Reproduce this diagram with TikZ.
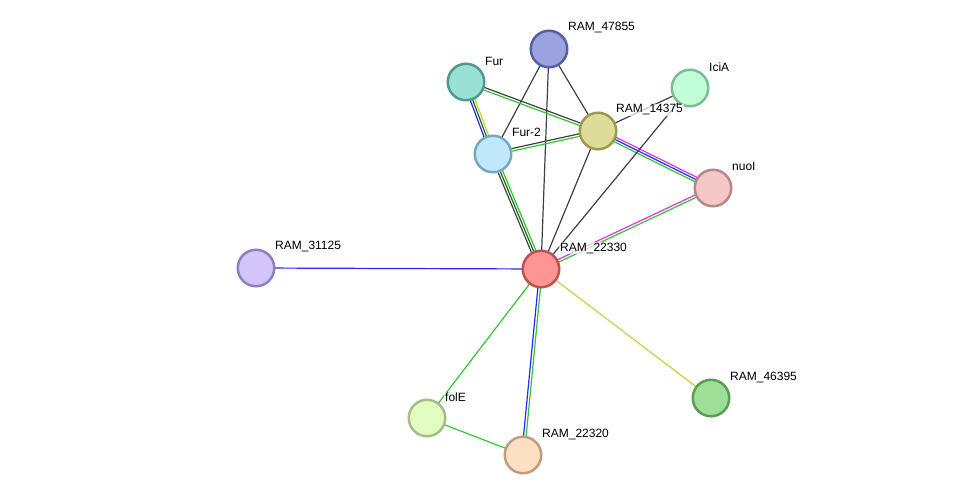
\documentclass[tikz,border=0pt]{standalone}
\usepackage{fontspec}
\setmainfont{Liberation Sans}
\usepackage{xcolor}
\definecolor{egray}{RGB}{64, 64, 64}
\definecolor{egreen}{RGB}{51, 196, 51}
\definecolor{edkgreen}{RGB}{20, 110, 20}
\definecolor{eblue}{RGB}{40, 40, 250}
\definecolor{emagenta}{RGB}{225, 50, 225}
\definecolor{eyellow}{RGB}{198, 210, 60}
\usetikzlibrary{calc, positioning, backgrounds}
\tikzset{
  prot/.style={circle, minimum size=36.5pt, inner sep=0pt, line width=2.5pt},
  lbl/.style={anchor=west, inner sep=1pt, font=\fontsize{12}{14}\selectfont,
    fill=white, fill opacity=0.7, text opacity=1},
  edge/.style={line width=1.2pt}
}
% one strand of a (multi-coloured) link, shifted sideways by #3
\newcommand{\link}[4]{\draw[edge,#4] ($(#1)!#3!90:(#2)$) -- ($(#2)!#3!-90:(#1)$);}

\begin{document}
\begin{tikzpicture}[x=1pt, y=-1pt]
  \useasboundingbox (0,0) rectangle (975,501);

  % proteins
  \node[prot, draw={rgb,255:red,86;green,96;blue,160}, fill={rgb,255:red,154;green,163;blue,224}] (n47855) at (549,49) {};
  \node[prot, draw={rgb,255:red,79;green,154;blue,144}, fill={rgb,255:red,153;green,224;blue,213}] (fur) at (466,82) {};
  \node[prot, draw={rgb,255:red,125;green,189;blue,149}, fill={rgb,255:red,192;green,255;blue,216}] (icia) at (690,88) {};
  \node[prot, draw={rgb,255:red,154;green,154;blue,80}, fill={rgb,255:red,222;green,220;blue,152}] (n14375) at (598,131) {};
  \node[prot, draw={rgb,255:red,120;green,168;blue,192}, fill={rgb,255:red,192;green,232;blue,250}] (fur2) at (493,154) {};
  \node[prot, draw={rgb,255:red,184;green,136;blue,136}, fill={rgb,255:red,245;green,199;blue,199}] (nuoi) at (713,188) {};
  \node[prot, draw={rgb,255:red,144;green,128;blue,192}, fill={rgb,255:red,211;green,196;blue,251}] (n31125) at (256,268) {};
  \node[prot, draw={rgb,255:red,192;green,80;blue,80}, fill={rgb,255:red,255;green,148;blue,148}] (n22330) at (541,269) {};
  \node[prot, draw={rgb,255:red,90;green,158;blue,82}, fill={rgb,255:red,158;green,222;blue,150}] (n46395) at (711,398) {};
  \node[prot, draw={rgb,255:red,165;green,189;blue,134}, fill={rgb,255:red,225;green,253;blue,194}] (fole) at (427,418) {};
  \node[prot, draw={rgb,255:red,190;green,158;blue,128}, fill={rgb,255:red,253;green,223;blue,194}] (n22320) at (523,455) {};

  % labels
  \node[lbl] (l47855) at ($(n47855)+(18,-21)$) {RAM\_47855};
  \node[lbl] (lfur)   at ($(fur)+(18,-21)$)    {Fur};
  \node[lbl] (licia)  at ($(icia)+(18,-21)$)   {IciA};
  \node[lbl] (l14375) at ($(n14375)+(17,-21)$) {RAM\_14375};
  \node[lbl] (lfur2)  at ($(fur2)+(18,-22)$)   {Fur-2};
  \node[lbl] (lnuoi)  at ($(nuoi)+(18,-22)$)   {nuoI};
  \node[lbl] (l31125) at ($(n31125)+(18,-22)$) {RAM\_31125};
  \node[lbl] (l22330) at ($(n22330)+(18,-21)$) {RAM\_22330};
  \node[lbl] (l46395) at ($(n46395)+(18,-21)$) {RAM\_46395};
  \node[lbl] (lfole)  at ($(fole)+(17,-21)$)   {folE};
  \node[lbl] (l22320) at ($(n22320)+(18,-21)$) {RAM\_22320};

  % links, behind the proteins
  \begin{scope}[on background layer]
    \link{n47855}{n14375}{0pt}{egray}
    \link{n47855}{fur2}{0pt}{egray}
    \link{n47855}{n22330}{0pt}{egray}
    \link{fur}{n14375}{1.3pt}{egray}
    \link{fur}{n14375}{-1.3pt}{egreen}
    \link{fur}{fur2}{2.4pt}{eyellow}
    \link{fur}{fur2}{0pt}{edkgreen}
    \link{fur}{fur2}{-2.4pt}{eblue}
    \link{fur2}{n14375}{1.3pt}{egray}
    \link{fur2}{n14375}{-1.3pt}{egreen}
    \link{fur2}{n22330}{2.4pt}{egreen}
    \link{fur2}{n22330}{0pt}{edkgreen}
    \link{fur2}{n22330}{-2.4pt}{egray}
    \link{n14375}{icia}{0pt}{egray}
    \link{n14375}{nuoi}{2.4pt}{emagenta}
    \link{n14375}{nuoi}{0pt}{eblue}
    \link{n14375}{nuoi}{-2.4pt}{egreen}
    \link{n14375}{n22330}{0pt}{egray}
    \link{icia}{n22330}{0pt}{egray}
    \link{n22330}{nuoi}{1.3pt}{emagenta}
    \link{n22330}{nuoi}{-1.3pt}{egreen}
    \link{n31125}{n22330}{0pt}{eblue}
    \link{n22330}{fole}{0pt}{egreen}
    \link{n22330}{n22320}{1.3pt}{egreen}
    \link{n22330}{n22320}{-1.3pt}{eblue}
    \link{n22330}{n46395}{0pt}{eyellow}
    \link{fole}{n22320}{0pt}{egreen}
  \end{scope}

\end{tikzpicture}
\end{document}
